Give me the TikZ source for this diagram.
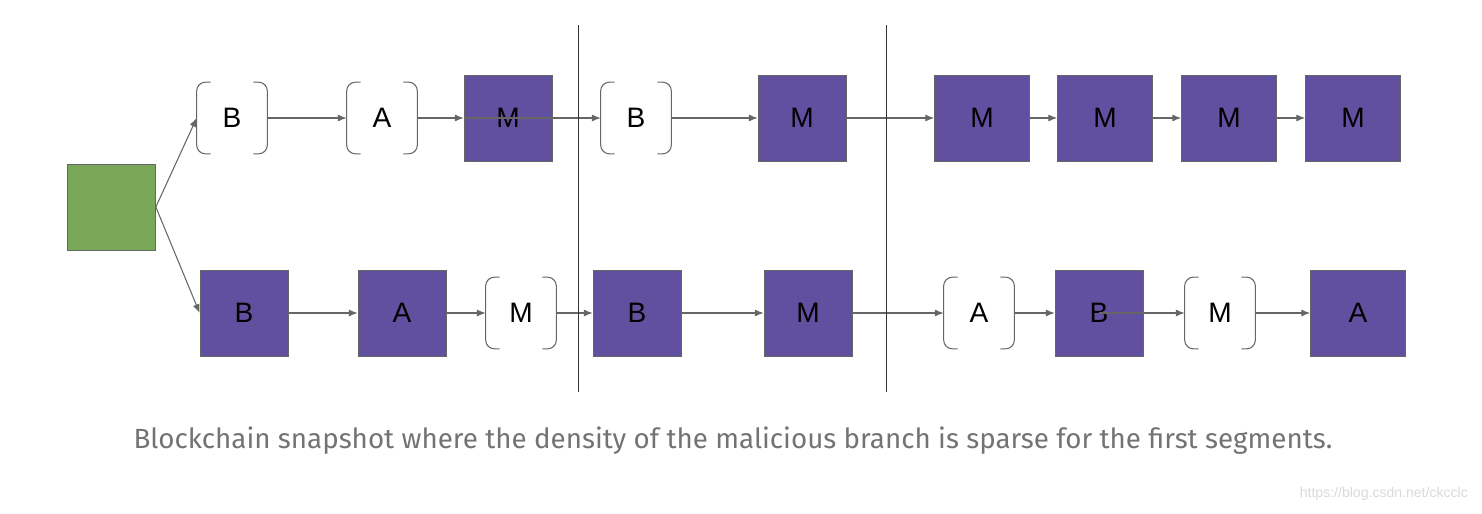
\documentclass[tikz,border=0pt]{standalone}
\usepackage{fontspec}
\setmainfont{Liberation Sans}
\newfontfamily\capfont{Fira Sans}
\usetikzlibrary{arrows.meta}
\definecolor{blockpurple}{HTML}{6150A0}
\definecolor{blockgreen}{HTML}{78A858}
\definecolor{edgegray}{HTML}{666666}
\begin{document}
\begin{tikzpicture}[x=0.02cm,y=-0.02cm,
  every node/.style={font=\fontsize{16}{18}\selectfont},
  evil/.style={draw=edgegray,fill=blockpurple,minimum width=1.76cm,minimum height=1.72cm,inner sep=0pt},
  wide/.style={evil,minimum width=1.9cm},
  honest/.style={minimum width=1.4cm,minimum height=1.42cm,inner sep=0pt},
  link/.style={edgegray,semithick,-{Latex[length=5pt,width=4pt]}}]
\useasboundingbox (0,0) rectangle (1482,514);

\node[evil,fill=blockgreen] (g) at (111.5,207) {};

% top branch
\node[honest] (t1) at (232,118) {B};
\node[honest] (t2) at (382,118) {A};
\node[evil] (t3) at (508,118) {M};
\node[honest] (t4) at (636,118) {B};
\node[evil] (t5) at (802,118) {M};
\node[wide] (t6) at (982,118) {M};
\node[wide] (t7) at (1105,118) {M};
\node[wide] (t8) at (1229,118) {M};
\node[wide] (t9) at (1353,118) {M};

% bottom branch
\node[evil] (b1) at (244,313) {B};
\node[evil] (b2) at (402,313) {A};
\node[honest] (b3) at (521,313) {M};
\node[evil] (b4) at (637,313) {B};
\node[evil] (b5) at (808,313) {M};
\node[honest] (b6) at (979,313) {A};
\node[evil] (b7) at (1099,313) {B};
\node[honest] (b8) at (1220,313) {M};
\node[wide] (b9) at (1358,313) {A};

\foreach \n in {t1,t2,t4,b3,b6,b8} {
  \draw[edgegray,semithick,rounded corners=5pt] ([xshift=8pt]\n.north west) -- (\n.north west) -- (\n.south west) -- ([xshift=8pt]\n.south west);
  \draw[edgegray,semithick,rounded corners=5pt] ([xshift=-8pt]\n.north east) -- (\n.north east) -- (\n.south east) -- ([xshift=-8pt]\n.south east);
}

\draw[link] (g.east) -- (t1.west);
\draw[link] (g.east) -- (b1.west);
\draw[link] (t1) -- (t2);
\draw[link] (t2) -- (t3);
\draw[link] (t3.west) -- (t4.west);
\foreach \a/\b in {t4/t5,t5/t6,t6/t7,t7/t8,t8/t9,b1/b2,b2/b3,b3/b4,b4/b5,b5/b6,b6/b7,b8/b9}
  \draw[link] (\a) -- (\b);
\draw[link] (b7.center) -- (b8.west);

\coordinate (s1) at (578,25);
\coordinate (s2) at (578,392);
\coordinate (s3) at (886,25);
\coordinate (s4) at (886,392);
\draw[black!80] (s1) -- (s2);
\draw[black!80] (s3) -- (s4);

\node[font=\capfont\fontsize{15.8}{18}\selectfont,text=black!55] (cap) at (733,441)
  {Blockchain snapshot where the density of the malicious branch is sparse for the first segments.};
\node[font=\fontsize{8}{10}\selectfont,text=black!15,anchor=east] (wm) at (1474,494) {https://blog.csdn.net/ckcclc};
\end{tikzpicture}
\end{document}
